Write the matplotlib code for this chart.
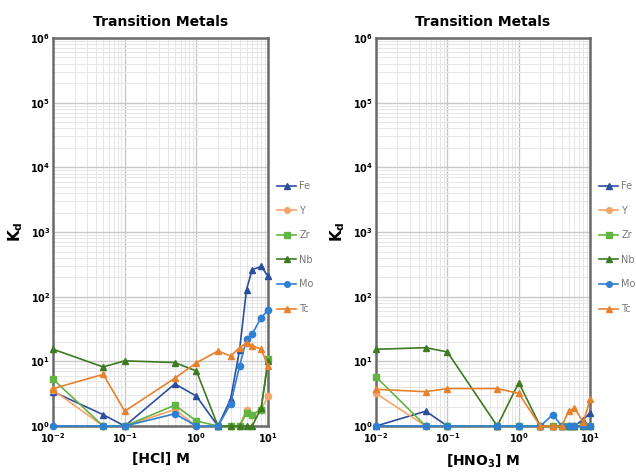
import numpy as np
import matplotlib.pyplot as plt
from matplotlib.ticker import LogLocator, LogFormatterMathtext, NullFormatter

# acid concentration (M)
conc = [0.01, 0.05, 0.1, 0.5, 1, 2, 3, 4, 5, 6, 8, 10]

metals = ["Fe", "Y", "Zr", "Nb", "Mo", "Tc"]
colors = ["#2c4e9e", "#f4a56a", "#62b443", "#3d7a22", "#2f7fd3", "#e8812e"]
markers = ["^", "o", "s", "^", "o", "^"]

# Kd in HCl
hcl_fe = [3.4, 1.5, 1, 4.5, 2.9, 1, 2.6, 15, 129, 262, 294, 207]
hcl_y = [3.6, 1, 1, 1.8, 1, 1, 1, 1, 1.8, 1.5, 1.8, 2.9]
hcl_zr = [5.3, 1, 1, 2.1, 1.2, 1, 1, 1, 1.6, 1.5, 1.8, 11]
hcl_nb = [15.4, 8.2, 10.2, 9.6, 7.1, 1, 1, 1, 1, 1, 1.9, 10]
hcl_mo = [1, 1, 1, 1.55, 1, 1, 2.2, 8.4, 22, 26.5, 47.6, 61.6]
hcl_tc = [3.8, 6.3, 1.7, 5.5, 9.5, 14.5, 12.1, 16.3, 19.4, 17.6, 15.4, 8.5]

# Kd in HNO3
hno3_fe = [1, 1.7, 1, 1, 1, 1, 1, 1, 1, 1, 1.26, 1.6]
hno3_y = [3.2, 1, 1, 1, 1, 1, 1, 1, 1, 1, 1, 1]
hno3_zr = [5.8, 1, 1, 1, 1, 1, 1, 1, 1, 1, 1, 1]
hno3_nb = [15.4, 16.3, 14, 1, 4.7, 1, 1, 1, 1, 1, 1, 1]
hno3_mo = [1, 1, 1, 1, 1, 1, 1.5, 1, 1, 1, 1, 1]
hno3_tc = [3.7, 3.4, 3.8, 3.8, 3.2, 1, 1, 1, 1.7, 1.9, 1.15, 2.6]

hcl = [hcl_fe, hcl_y, hcl_zr, hcl_nb, hcl_mo, hcl_tc]
hno3 = [hno3_fe, hno3_y, hno3_zr, hno3_nb, hno3_mo, hno3_tc]

fig = plt.figure(figsize=(6.36, 4.75), dpi=100)
ax1 = fig.add_axes([0.0835, 0.103, 0.338, 0.817])
ax2 = fig.add_axes([0.591, 0.103, 0.337, 0.817])


def draw(ax, data, xlabel):
    for i in range(len(metals)):
        ax.plot(conc, data[i], color=colors[i], marker=markers[i], ms=4.5,
                lw=1.2, label=metals[i], clip_on=False, zorder=3)
    ax.set_xscale("log")
    ax.set_yscale("log")
    ax.set_xlim(0.01, 10)
    ax.set_ylim(1, 1e6)
    ax.yaxis.set_major_locator(LogLocator(base=10, numticks=10))
    ax.yaxis.set_minor_locator(LogLocator(base=10, subs=np.arange(2, 10), numticks=20))
    ax.xaxis.set_minor_locator(LogLocator(base=10, subs=np.arange(2, 10), numticks=20))
    ax.xaxis.set_major_formatter(LogFormatterMathtext())
    ax.yaxis.set_major_formatter(LogFormatterMathtext())
    ax.yaxis.set_minor_formatter(NullFormatter())
    ax.xaxis.set_minor_formatter(NullFormatter())
    ax.grid(which="major", color="#c8c8c8", lw=1.0)
    ax.grid(which="minor", color="#e6e6e6", lw=0.7)
    ax.set_axisbelow(True)
    for s in ax.spines.values():
        s.set_color("#6a6a6a")
        s.set_linewidth(1.8)
    ax.tick_params(axis="x", which="both", length=0, labelsize=7, pad=4)
    ax.tick_params(axis="y", which="both", length=0, labelsize=7, pad=2)
    for lab in ax.get_xticklabels() + ax.get_yticklabels():
        lab.set_fontweight("bold")
    ax.set_title("Transition Metals", fontsize=10, fontweight="bold", pad=9)
    ax.set_xlabel(xlabel, fontsize=10, fontweight="bold", labelpad=5)
    ax.set_ylabel(r"$\mathbf{K_d}$", fontsize=11, labelpad=4)
    ax.legend(loc="center left", bbox_to_anchor=(1.0, 0.46), frameon=False,
              fontsize=7, labelspacing=1.5, handlelength=2.0, handletextpad=0.3,
              markerscale=0.9, labelcolor="#777777")


draw(ax1, hcl, "[HCl] M")
draw(ax2, hno3, r"[HNO$_\mathbf{3}$] M")

plt.savefig("out.png", dpi=100)
